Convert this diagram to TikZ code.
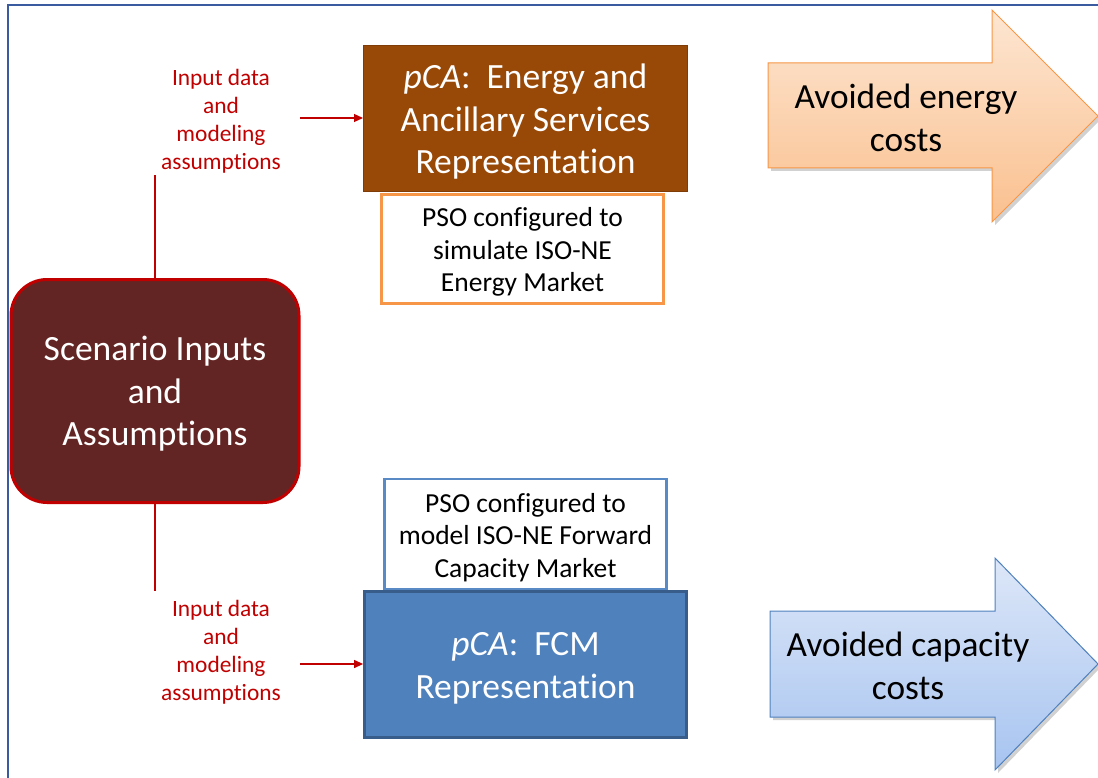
\documentclass[tikz,border=0pt]{standalone}
\usepackage{fontspec}
\setmainfont{Carlito}[Ligatures=NoCommon]
\usetikzlibrary{arrows.meta}
\definecolor{frameblue}{HTML}{3A5BA0}
\definecolor{scenfill}{HTML}{632523}
\definecolor{darkred}{HTML}{C00000}
\definecolor{brownfill}{HTML}{984807}
\definecolor{brownline}{HTML}{7F3C06}
\definecolor{orangeline}{HTML}{F79646}
\definecolor{bluefill}{HTML}{4F81BD}
\definecolor{blueline}{HTML}{385D8A}
\definecolor{psoblue}{HTML}{5A8AC6}
\definecolor{orangetop}{HTML}{FDE6D2}
\definecolor{orangebot}{HTML}{FAC08F}
\definecolor{bluetop}{HTML}{DDE7F8}
\definecolor{bluebot}{HTML}{A7C4F0}
\tikzset{
  bigtext/.style={font=\fontsize{35.5}{42.5}\selectfont, align=center},
  redlabel/.style={font=\fontsize{23.4}{28}\selectfont, align=center, text=darkred, inner sep=0},
  psotext/.style={font=\fontsize{27.5}{32.5}\selectfont, align=center, text=black},
  boxshape/.style={inner sep=0},
  feed/.style={draw=darkred, line width=1.2pt},
  feedarrow/.style={feed, -{Triangle[length=9pt,width=8pt]}},
}
\begin{document}
\begin{tikzpicture}[x=1pt,y=-1pt]
\useasboundingbox (0,0) rectangle (1098,778);
% outer frame
\draw[frameblue, line width=1.6pt] (8,5) rectangle (1120,800);

% scenario box
\node[boxshape, draw=darkred, fill=scenfill, line width=3pt, rounded corners=36pt,
      minimum width=288pt, minimum height=223pt] (scen) at (155,391) {};
\node[bigtext, text=white] (scentxt) at ([yshift=-3pt]scen.center) {Scenario Inputs\\and\\Assumptions};

% top branch
\node[redlabel] (lab1) at (221,121) {Input data\\and\\modeling\\assumptions};
\coordinate (t1) at (155,175);
\coordinate (a1) at (300,118);
\draw[feed] (scen.north -| t1) -- (t1);

% brown box
\node[boxshape, draw=brownline, fill=brownfill, line width=1pt, minimum width=324pt, minimum height=146pt] (energy) at (525.5,118.5) {};
\node[bigtext, text=white] (energytxt) at ([yshift=-3.5pt]energy.center) {\textit{pCA}:\ \ Energy and\\Ancillary Services\\Representation};
\draw[feedarrow] (a1) -- (energy.west |- a1);

\node[boxshape, draw=orangeline, fill=white, line width=2.6pt, minimum width=282pt, minimum height=109pt] (pso1) at (522.5,249) {};
\node[psotext] (pso1txt) at ([yshift=-3pt]pso1.center) {PSO configured to\\simulate ISO-NE\\Energy Market};

% bottom branch
\node[redlabel] (lab2) at (221,652) {Input data\\and\\modeling\\assumptions};
\coordinate (t2) at (155,591);
\coordinate (a2) at (300,664);
\draw[feed] (scen.south -| t2) -- (t2);

\node[boxshape, draw=psoblue, fill=white, line width=2.6pt, minimum width=282pt, minimum height=110pt] (pso2) at (525.5,534) {};
\node[psotext] (pso2txt) at ([yshift=-3.5pt]pso2.center) {PSO configured to\\model ISO-NE Forward\\Capacity Market};

\node[boxshape, draw=blueline, fill=bluefill, line width=2.8pt, minimum width=322pt, minimum height=146pt] (fcm) at (525.5,664.5) {};
\node[bigtext, text=white, font=\fontsize{35.5}{43}\selectfont] (fcmtxt) at ([yshift=-4pt]fcm.center) {\textit{pCA}:\ \ FCM\\Representation};
\draw[feedarrow] (a2) -- (fcm.west |- a2);

% top big arrow
\fill[black!30, opacity=0.6] (771,66) -- (995,66) -- (995,13) -- (1101,119) -- (995,225) -- (995,171) -- (771,171) -- cycle;
\shade[top color=orangetop, bottom color=orangebot, draw=orangeline, line width=1pt]
  (768,63) -- (992,63) -- (992,10) -- (1098,116) -- (992,222) -- (992,168) -- (768,168) -- cycle;
\node[bigtext, font=\fontsize{35.3}{43}\selectfont, text=black] (energycost) at (906,118) {Avoided energy\\costs};

% bottom big arrow
\fill[black!30, opacity=0.6] (773,614) -- (998,614) -- (998,561) -- (1101,667) -- (998,773) -- (998,720) -- (773,720) -- cycle;
\shade[top color=bluetop, bottom color=bluebot, draw=bluefill, line width=1pt]
  (770,611) -- (995,611) -- (995,558) -- (1098,664) -- (995,770) -- (995,717) -- (770,717) -- cycle;
\node[bigtext, font=\fontsize{35.3}{43}\selectfont, text=black] (capcost) at (908,666) {Avoided capacity\\costs};
\end{tikzpicture}
\end{document}
